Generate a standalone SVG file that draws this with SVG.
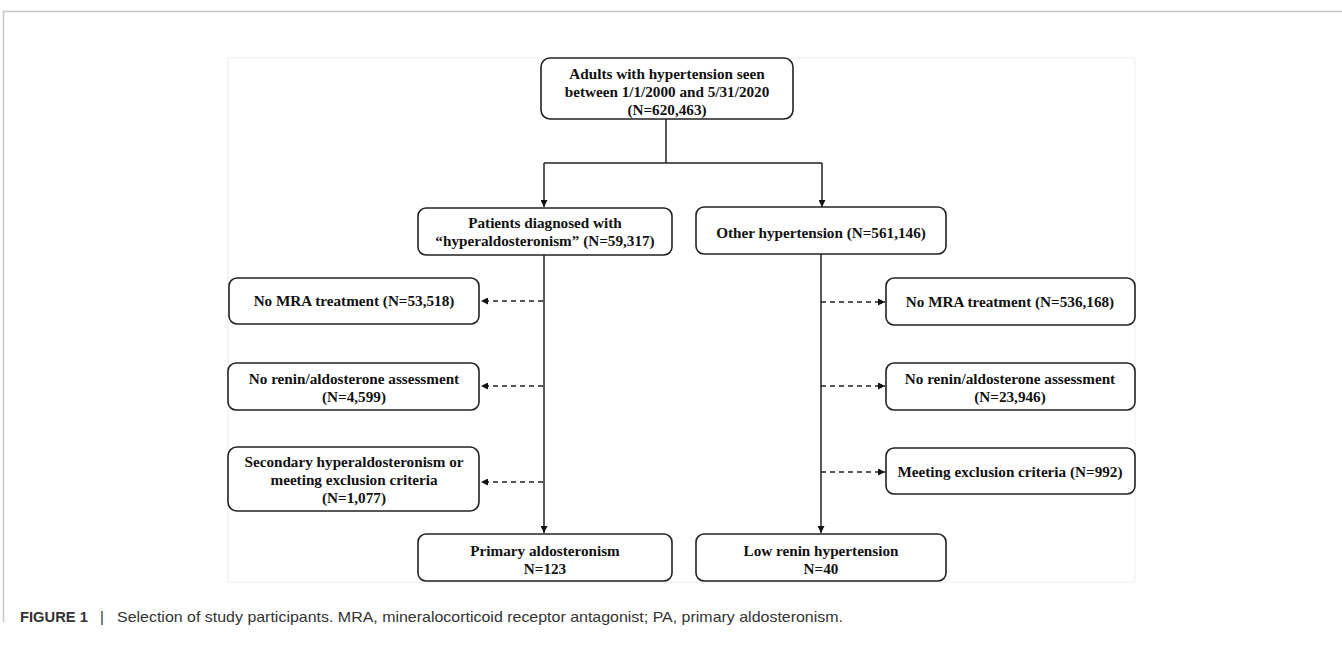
<svg xmlns="http://www.w3.org/2000/svg" width="1342" height="645" viewBox="0 0 1342 645">
<style>
.box{fill:#fff;stroke:#222;stroke-width:1.6}
.t{font-family:"Liberation Serif","Times New Roman",serif;font-weight:bold;font-size:15.2px;fill:#111;text-anchor:middle}
.ln{fill:none;stroke:#222;stroke-width:1.5}
.dash{fill:none;stroke:#222;stroke-width:1.5;stroke-dasharray:5,4}
.cap{font-family:"Liberation Sans",Arial,sans-serif;font-size:15px;fill:#333}
</style>
<defs>
<marker id="ah" viewBox="0 0 10 10" refX="10" refY="5" markerWidth="7" markerHeight="7" markerUnits="userSpaceOnUse" orient="auto">
<path d="M0,0 L10,5 L0,10 z" fill="#111"/>
</marker>
</defs>
<rect width="1342" height="645" fill="#fff"/>
<path d="M3.5,622 V11.5 H1342" fill="none" stroke="#c8c8c8" stroke-width="1.5"/>
<rect x="228" y="58" width="907" height="524" fill="none" stroke="#eeeeee" stroke-width="1"/>
<g id="connectors">
<path class="ln" d="M666,119 V163"/>
<path class="ln" d="M544,163 H822"/>
<path class="ln" d="M544,163 V207" marker-end="url(#ah)"/>
<path class="ln" d="M822,163 V207" marker-end="url(#ah)"/>
<path class="ln" d="M544,255 V533" marker-end="url(#ah)"/>
<path class="ln" d="M821,254 V533" marker-end="url(#ah)"/>
<path class="dash" d="M543,301 H481" marker-end="url(#ah)"/>
<path class="dash" d="M543,386 H481" marker-end="url(#ah)"/>
<path class="dash" d="M543,482 H481" marker-end="url(#ah)"/>
<path class="dash" d="M821,302 H885" marker-end="url(#ah)"/>
<path class="dash" d="M821,386 H885" marker-end="url(#ah)"/>
<path class="dash" d="M821,472 H885" marker-end="url(#ah)"/>
</g>
<g id="n_top">
<rect class="box" x="541" y="58" width="252" height="61" rx="9"/>
<text class="t" x="667" y="79">Adults with hypertension seen</text>
<text class="t" x="667" y="97">between 1/1/2000 and 5/31/2020</text>
<text class="t" x="667" y="115">(N=620,463)</text>
</g>
<g id="n_patients">
<rect class="box" x="418" y="208" width="254" height="47" rx="8"/>
<text class="t" x="545" y="228">Patients diagnosed with</text>
<text class="t" x="545" y="246">“hyperaldosteronism” (N=59,317)</text>
</g>
<g id="n_other">
<rect class="box" x="696" y="207" width="250" height="47" rx="8"/>
<text class="t" x="821" y="238">Other hypertension (N=561,146)</text>
</g>
<g id="n_nomra_l">
<rect class="box" x="229" y="278" width="250" height="46" rx="8"/>
<text class="t" x="354" y="306">No MRA treatment (N=53,518)</text>
</g>
<g id="n_norenin_l">
<rect class="box" x="228" y="363" width="251" height="47" rx="8"/>
<text class="t" x="354" y="384">No renin/aldosterone assessment</text>
<text class="t" x="354" y="402">(N=4,599)</text>
</g>
<g id="n_secondary">
<rect class="box" x="228" y="447" width="251" height="64" rx="9"/>
<text class="t" x="354" y="467">Secondary hyperaldosteronism or</text>
<text class="t" x="354" y="485">meeting exclusion criteria</text>
<text class="t" x="354" y="503">(N=1,077)</text>
</g>
<g id="n_nomra_r">
<rect class="box" x="886" y="278" width="249" height="47" rx="8"/>
<text class="t" x="1010" y="307">No MRA treatment (N=536,168)</text>
</g>
<g id="n_norenin_r">
<rect class="box" x="886" y="363" width="249" height="47" rx="8"/>
<text class="t" x="1010" y="384">No renin/aldosterone assessment</text>
<text class="t" x="1010" y="402">(N=23,946)</text>
</g>
<g id="n_exclusion_r">
<rect class="box" x="886" y="448" width="249" height="46" rx="8"/>
<text class="t" x="1010" y="477">Meeting exclusion criteria (N=992)</text>
</g>
<g id="n_primary">
<rect class="box" x="418" y="534" width="254" height="47" rx="8"/>
<text class="t" x="545" y="556">Primary aldosteronism</text>
<text class="t" x="545" y="574">N=123</text>
</g>
<g id="n_lowrenin">
<rect class="box" x="696" y="534" width="250" height="47" rx="8"/>
<text class="t" x="821" y="556">Low renin hypertension</text>
<text class="t" x="821" y="574">N=40</text>
</g>
<g id="caption">
<text class="cap" x="20" y="622" font-weight="bold" fill="#222" textLength="68" lengthAdjust="spacingAndGlyphs">FIGURE 1</text>
<text class="cap" x="100" y="622" fill="#999">|</text>
<text class="cap" x="117" y="622" textLength="726" lengthAdjust="spacingAndGlyphs">Selection of study participants. MRA, mineralocorticoid receptor antagonist; PA, primary aldosteronism.</text>
</g>
</svg>
